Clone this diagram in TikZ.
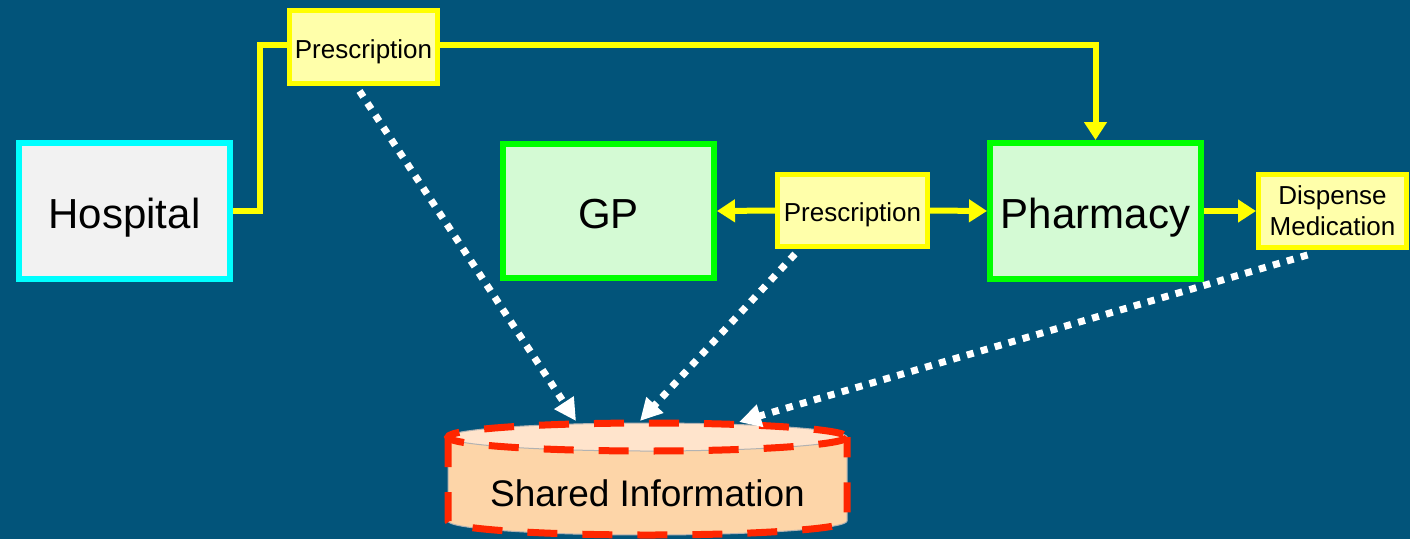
\documentclass[tikz,border=0pt]{standalone}
\usepackage{fontspec}
\setmainfont{Liberation Sans}
\usetikzlibrary{arrows.meta,calc}
\definecolor{bgblue}{RGB}{2,84,122}
\definecolor{ylw}{RGB}{255,255,0}
\definecolor{ylwfill}{RGB}{255,255,170}
\definecolor{hospfill}{RGB}{242,242,242}
\definecolor{hospline}{RGB}{0,255,255}
\definecolor{grnline}{RGB}{0,255,0}
\definecolor{grnfill}{RGB}{212,250,212}
\definecolor{peach}{RGB}{253,213,168}
\definecolor{peachtop}{RGB}{255,228,204}
\definecolor{redline}{RGB}{255,38,0}
\begin{document}
\begin{tikzpicture}[x=1pt,y=-1pt,
  bigbox/.style={draw, line width=6pt, minimum width=211pt, minimum height=136pt, inner sep=0pt, text height=35pt, text depth=0pt, font=\fontsize{42}{50}\selectfont},
  hospbox/.style={bigbox, draw=hospline, fill=hospfill},
  orgbox/.style={bigbox, draw=grnline, fill=grnfill},
  docbox/.style={draw=ylw, fill=ylwfill, line width=5pt, minimum width=148pt, minimum height=73pt, inner sep=0pt, align=center, font=\fontsize{26}{31}\selectfont},
  onebox/.style={docbox, text height=22.6pt, text depth=0pt},
  flow/.style={draw=ylw, line width=6pt},
  flowarrow/.style={flow, -{Triangle[length=18pt,width=22pt]}},
  share/.style={draw=white, line width=7pt, dash pattern=on 7pt off 7.5pt, -{Triangle[length=22pt,width=22pt]}}
]
\fill[bgblue] (0,0) rectangle (1410,539);
\useasboundingbox (0,0) rectangle (1410,539);

% boxes
\node[hospbox] (hosp) at (124.5,211) {Hospital};
\node[onebox] (presc1) at (363.5,47) {Prescription};
\node[orgbox, minimum height=134pt] (gp) at (608.5,211) {GP};
\node[onebox, minimum width=150pt, minimum height=72pt] (presc2) at (852.5,210.5) {Prescription};
\node[orgbox] (pharm) at (1095.5,211) {Pharmacy};
\node[docbox] (disp) at (1332.5,211) {\raisebox{-2pt}{Dispense}\\\raisebox{-2pt}{Medication}};

% cylinder
\def\cx{647.5}\def\rx{199.5}\def\ry{14}
\fill[peach, draw=gray!60, line width=1pt] (\cx+\rx,437) -- (\cx+\rx,521) arc[start angle=0, end angle=180, x radius=\rx, y radius=\ry] -- (\cx-\rx,437) -- cycle;
\draw[fill=peachtop, draw=gray!60, line width=1pt] (\cx,437) ellipse[x radius=\rx, y radius=\ry];
\draw[redline, line width=7pt, dash pattern=on 30pt off 25pt] (\cx-\rx,437) -- (\cx-\rx,521) arc[start angle=180, end angle=0, x radius=\rx, y radius=\ry] -- (\cx+\rx,437);
\draw[redline, line width=7pt, dash pattern=on 30pt off 25pt] (\cx,437) ellipse[x radius=\rx, y radius=\ry];
\node[font=\fontsize{37}{44}\selectfont, inner sep=0pt] (shared) at (\cx,493) {Shared Information};
\coordinate (in1) at (576,421);
\coordinate (in2) at (640,421);
\coordinate (in3) at (739,422);

% yellow flows
\draw[flow] (hosp.east) -- ++(27,0) |- ($(presc1.west)+(0,-2)$);
\draw[flowarrow] ($(presc1.east)+(0,-2)$) -| (pharm.north);
\draw[flowarrow] (presc2.west) -- (gp.east);
\draw[flowarrow] (presc2.east) -- (pharm.west);
\draw[flowarrow] (pharm.east) -- (disp.west);

% dotted flows into shared information
\draw[share] ($(presc1.south)+(-4,5)$) -- (in1);
\draw[share] ($(presc2.south west)+(20,5)$) -- (in2);
\draw[share] ($(disp.south)+(-25,5)$) -- (in3);
\end{tikzpicture}
\end{document}
